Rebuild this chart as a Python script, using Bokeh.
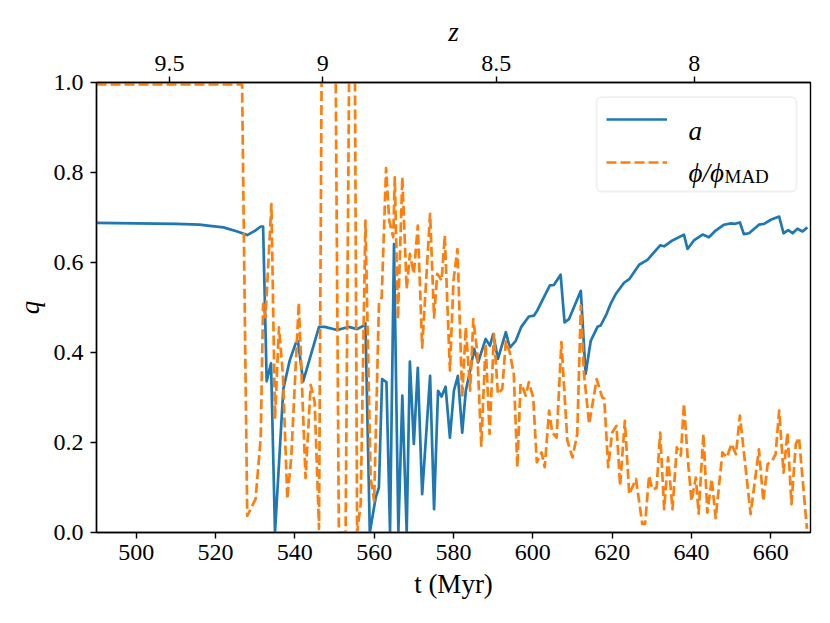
from bokeh.plotting import figure
from bokeh.models import (LinearAxis, FixedTicker, Range1d, Label, BoxAnnotation,
                          Legend, LegendItem, PrintfTickFormatter)
from bokeh.embed import file_html
from bokeh.resources import INLINE

# ---------------- data ----------------
t_a = [490, 500, 510, 516, 518, 522, 525.5, 528, 530, 531.4, 532.0, 532.9, 534.0, 535.0,
       537.1, 538.7, 540.2, 540.8, 542.1, 546.1, 547.5, 550.7, 553.6, 555.7, 557.4, 557.8,
       558.9, 560.4, 561.2, 562.0, 563.1, 564.0, 565.0, 566.1, 567.1, 568.2, 569.0, 570.0,
       571.0, 572.1, 574.1, 575.1, 576.1, 577.0, 578.0, 579.1, 580.1, 581.1, 582.2, 583.1,
       584.2, 585.2, 586.2, 588.1, 589.2, 590.0, 591.2, 593.2, 594.2, 595.7, 597.1, 599.0,
       600.3, 601.1, 602.8, 604.3, 605.3, 607.0, 608.0, 609.1, 612.1, 613.3, 614.6, 616.3,
       617.1, 618.6, 619.6, 620.9, 623.0, 624.3, 626.8, 628.9, 632.1, 633.1, 635.2, 638.1,
       639.0, 640.6, 642.8, 644.4, 646.1, 648.2, 649.9, 651.0, 652.2, 653.2, 654.5, 657.0,
       658.3, 660.0, 662.1, 663.2, 664.4, 665.5, 666.7, 668.0, 669.2]
a_vals = [0.688, 0.687, 0.686, 0.684, 0.682, 0.678, 0.669, 0.661, 0.671, 0.680, 0.680, 0.336,
          0.376, 0.0, 0.319, 0.382, 0.420, 0.425, 0.336, 0.457, 0.457, 0.450, 0.457, 0.452,
          0.460, 0.465, 0.0, 0.078, 0.100, 0.341, 0.334, 0.0, 0.641, 0.0, 0.304, 0.0, 0.380,
          0.197, 0.366, 0.085, 0.348, 0.052, 0.315, 0.302, 0.324, 0.211, 0.315, 0.348, 0.222,
          0.315, 0.360, 0.408, 0.378, 0.430, 0.415, 0.441, 0.386, 0.445, 0.411, 0.426, 0.457,
          0.480, 0.482, 0.493, 0.523, 0.549, 0.550, 0.573, 0.467, 0.474, 0.537, 0.352, 0.426,
          0.457, 0.460, 0.486, 0.508, 0.530, 0.555, 0.563, 0.595, 0.606, 0.638, 0.636, 0.649,
          0.662, 0.630, 0.649, 0.662, 0.656, 0.671, 0.684, 0.687, 0.686, 0.689, 0.663, 0.665,
          0.684, 0.686, 0.695, 0.702, 0.665, 0.672, 0.665, 0.675, 0.669, 0.678]

t_phi = [490, 526.7, 528.0, 530.1, 531.4, 532.0, 532.6, 534.1, 535.0, 536.0, 537.0, 538.1,
         539.1, 541.0, 542.7, 544.0, 545.0, 546.1, 547.0, 548.0, 549.0, 550.0, 551.1, 552.8,
         554.1, 554.9, 555.7, 556.6, 557.8, 559.1, 560.0, 561.2, 561.9, 563.0, 563.8, 564.8,
         565.2, 566.0, 567.1, 568.2, 569.0, 570.0, 571.0, 572.1, 574.1, 575.1, 575.9, 577.0,
         577.8, 579.1, 580.0, 581.0, 582.2, 583.1, 584.2, 585.0, 586.0, 587.0, 588.1, 589.1,
         590.2, 591.2, 592.3, 593.2, 594.2, 595.2, 596.1, 596.9, 597.6, 598.2, 599.0, 600.1,
         601.0, 602.2, 603.0, 604.1, 604.9, 606.0, 607.2, 608.7, 610.0, 611.2, 612.1, 612.9,
         614.2, 616.1, 617.5, 618.0, 619.0, 620.0, 621.1, 622.0, 623.2, 624.3, 626.0, 627.6,
         628.3, 629.3, 630.1, 631.2, 632.1, 633.1, 634.1, 635.2, 636.3, 637.3, 638.1, 639.0,
         640.0, 641.1, 641.8, 643.0, 644.0, 645.1, 646.1, 647.8, 648.9, 650.1, 651.2, 652.2,
         654.9, 657.0, 658.1, 659.2, 660.4, 661.2, 662.1, 663.2, 664.2, 665.2, 666.3, 667.1,
         669.1]
phi_vals = [0.996, 0.996, 0.037, 0.074, 0.211, 0.508, 0.478, 0.730, 0.252, 0.456, 0.350, 0.074,
            0.167, 0.511, 0.121, 0.328, 0.290, 0.008, 1.400, 1.600, 1.500, 1.400, 0.0, 0.0,
            1.500, 1.500, 0.0, 0.063, 0.693, 0.122, 0.070, 0.508, 0.523, 0.810, 0.693, 0.656,
            0.789, 0.474, 0.790, 0.541, 0.619, 0.575, 0.682, 0.411, 0.708, 0.478, 0.575, 0.560,
            0.660, 0.360, 0.560, 0.630, 0.300, 0.456, 0.315, 0.474, 0.400, 0.193, 0.419, 0.219,
            0.441, 0.308, 0.319, 0.425, 0.400, 0.352, 0.145, 0.330, 0.319, 0.304, 0.334, 0.300,
            0.156, 0.178, 0.145, 0.271, 0.222, 0.211, 0.423, 0.204, 0.167, 0.219, 0.504, 0.352,
            0.241, 0.341, 0.300, 0.298, 0.145, 0.222, 0.237, 0.104, 0.248, 0.085, 0.119, 0.019,
            0.019, 0.126, 0.096, 0.099, 0.222, 0.052, 0.167, 0.052, 0.189, 0.171, 0.286, 0.170,
            0.070, 0.122, 0.042, 0.219, 0.044, 0.119, 0.032, 0.178, 0.167, 0.197, 0.174, 0.260,
            0.041, 0.185, 0.070, 0.152, 0.160, 0.174, 0.271, 0.133, 0.222, 0.063, 0.197, 0.211,
            0.008]

x_ticks = [500, 520, 540, 560, 580, 600, 620, 640, 660]
y_ticks = [0.0, 0.2, 0.4, 0.6, 0.8, 1.0]
z_ticks = [9.5, 9.0, 8.5, 8.0]
z_tick_labels = ["9.5", "9", "8.5", "8"]
T_SCALE = 17298.0  # Myr; t ~ T_SCALE * (1+z)^-1.5 at high redshift

BLUE = "#1f77b4"
ORANGE = "#ff7f0e"
FONT = "Liberation Serif"
TICK_SIZE = "24px"
LABEL_SIZE = "27px"

# ---------------- figure ----------------
p = figure(frame_width=714, frame_height=450,
           x_range=Range1d(490, 670), y_range=Range1d(0, 1),
           output_backend="svg", toolbar_location=None,
           min_border_left=96, min_border_right=20, min_border_top=82, min_border_bottom=91,
           background_fill_color="white", border_fill_color="white")
p.xgrid.visible = False
p.ygrid.visible = False
p.outline_line_color = "black"
p.outline_line_width = 1.4


def style_axis(ax):
    ax.major_label_text_font = FONT
    ax.major_label_text_font_size = TICK_SIZE
    ax.major_label_text_color = "black"
    ax.axis_line_color = "black"
    ax.axis_line_width = 1.4
    ax.major_tick_line_color = "black"
    ax.major_tick_line_width = 1.4
    ax.major_tick_in = 0
    ax.major_tick_out = 6
    ax.minor_tick_line_color = None
    ax.axis_label_text_font = FONT
    ax.axis_label_text_font_size = LABEL_SIZE
    ax.axis_label_text_font_style = "italic"
    ax.axis_label_text_color = "black"


p.xaxis.ticker = FixedTicker(ticks=x_ticks)
p.yaxis.ticker = FixedTicker(ticks=y_ticks)
p.yaxis.formatter = PrintfTickFormatter(format="%.1f")
for ax in p.xaxis + p.yaxis:
    style_axis(ax)
p.xaxis.major_label_standoff = 6
p.xaxis.axis_label = "t (Myr)"
p.xaxis.axis_label_text_font_style = "normal"
p.xaxis.axis_label_standoff = 6
p.yaxis.major_label_standoff = 7
p.yaxis.axis_label = "q"
p.yaxis.axis_label_standoff = 6

# top redshift axis
z_pos = [round(T_SCALE * (1.0 + z) ** -1.5, 3) for z in z_ticks]
top = LinearAxis(ticker=FixedTicker(ticks=z_pos),
                 major_label_overrides={zp: lab for zp, lab in zip(z_pos, z_tick_labels)},
                 axis_label="z")
style_axis(top)
top.major_label_standoff = 6
top.axis_label_standoff = 6
p.add_layout(top, "above")

# ---------------- data lines ----------------
r_a = p.line(t_a, a_vals, line_color=BLUE, line_width=2.7, line_join="round")
r_phi = p.line(t_phi, phi_vals, line_color=ORANGE, line_width=2.7, line_dash="10 4",
               line_join="round")

# ---------------- legend ----------------
box = BoxAnnotation(left=500, right=700, top=435.3, bottom=341,
                    left_units="screen", right_units="screen",
                    top_units="screen", bottom_units="screen",
                    fill_color="white", fill_alpha=0.8,
                    line_color="#cccccc", line_width=1.8, level="annotation")
try:
    box.border_radius = 5
except Exception:
    pass
p.add_layout(box)

legend = Legend(items=[LegendItem(label=" ", renderers=[r_a]),
                       LegendItem(label=" ", renderers=[r_phi])],
                location=(510, 360.3), padding=0, margin=0, spacing=23,
                glyph_width=61, glyph_height=20, label_height=20, label_width=1,
                label_standoff=0, label_text_font_size="1px",
                border_line_color=None, background_fill_alpha=0.0)
p.add_layout(legend)

p.add_layout(Label(x=592, y=402, x_units="screen", y_units="screen", text="a",
                   text_font=FONT, text_font_style="italic", text_font_size=LABEL_SIZE,
                   text_baseline="alphabetic", text_color="black"))
p.add_layout(Label(x=592, y=360, x_units="screen", y_units="screen", text="ϕ/ϕ",
                   text_font=FONT, text_font_style="italic", text_font_size=LABEL_SIZE,
                   text_baseline="alphabetic", text_color="black"))
p.add_layout(Label(x=628, y=356, x_units="screen", y_units="screen", text="MAD",
                   text_font=FONT, text_font_size="19px",
                   text_baseline="alphabetic", text_color="black"))

open("out.html", "w").write(file_html(p, INLINE))
